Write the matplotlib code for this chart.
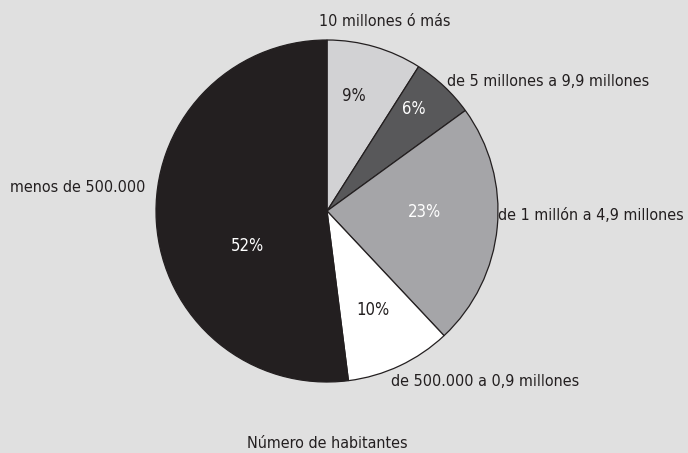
import numpy as np
import matplotlib.pyplot as plt

# slice data, clockwise from 12 o'clock
categorias = ["10 millones ó más", "de 5 millones a 9,9 millones",
              "de 1 millón a 4,9 millones", "de 500.000 a 0,9 millones",
              "menos de 500.000"]
porcentajes = [9, 6, 23, 10, 52]
colores = ["#d2d2d4", "#58585a", "#a5a5a8", "#ffffff", "#231f20"]
color_pct = ["#231f20", "#ffffff", "#ffffff", "#231f20", "#ffffff"]
titulo = "Número de habitantes"

FONT = ["Liberation Sans Narrow", "DejaVu Sans"]
plt.rcParams["font.family"] = FONT
plt.rcParams["font.stretch"] = "condensed"

fig = plt.figure(figsize=(6.88, 4.53), dpi=100)
fig.patch.set_facecolor("#e0e0e0")

# pie centre ~ (327, 211) px, radius ~171 px
W, H = 688, 453
cx, cy, r = 327, 211, 171
ax = fig.add_axes([(cx - r) / W, (H - cy - r) / H, 2 * r / W, 2 * r / H])
ax.set_facecolor("none")

wedges, texts, autotexts = ax.pie(
    porcentajes, colors=colores, startangle=90, counterclock=False,
    labels=categorias, autopct="%d%%", pctdistance=0.65, labeldistance=1.1,
    wedgeprops=dict(edgecolor="#231f20", linewidth=0.9),
    textprops=dict(fontsize=11.5, color="#231f20", stretch="condensed"))
ax.set_xlim(-1, 1)
ax.set_ylim(-1, 1)
ax.set_aspect("equal")

# percentage label placement (radius fraction, angle deg)
pct_pos = [(0.69, 76.8), (0.78, 49.6), (0.57, -0.6), (0.64, -65.3), (0.51, 203.6)]
for t, (rr, ang), c in zip(autotexts, pct_pos, color_pct):
    a = np.radians(ang)
    t.set_position((rr * np.cos(a), rr * np.sin(a)))
    t.set_color(c)
    t.set_fontsize(12)
    t.set_ha("center")
    t.set_va("center")

# category label placement in pixels (x, y, ha)
lab_pos = [(385, 22, "center"), (447, 81, "left"), (498, 216, "left"),
           (391, 381, "left"), (145, 187, "right")]
for t, (px, py, ha) in zip(texts, lab_pos):
    t.set_position(((px - cx) / r, (cy - py) / r))
    t.set_ha(ha)
    t.set_va("center")
    t.set_clip_on(False)

fig.text(cx / W, 1 - 444 / H, titulo, ha="center", va="center",
         fontsize=11.5, color="#231f20", stretch="condensed")

fig.savefig("out.png", dpi=100, facecolor=fig.get_facecolor())
